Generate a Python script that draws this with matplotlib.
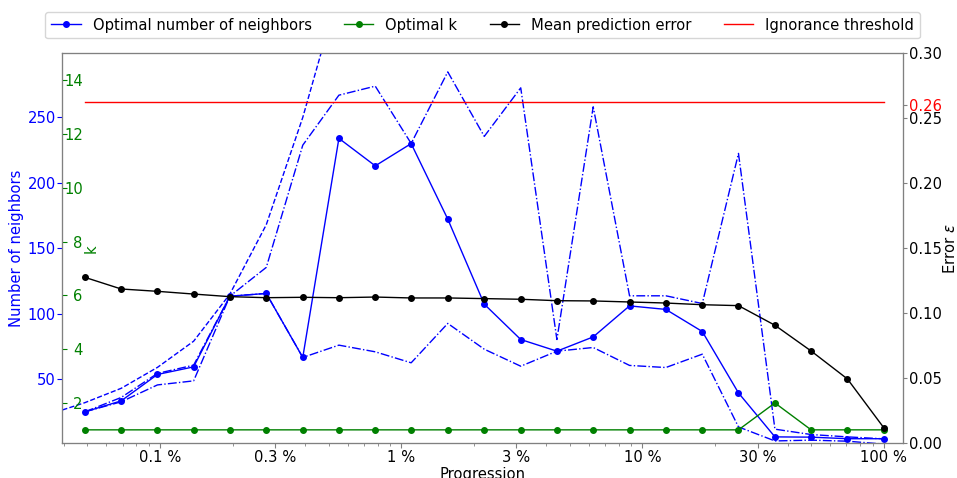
import matplotlib
matplotlib.use("Agg")
import matplotlib.pyplot as plt
from matplotlib.ticker import FixedLocator, FuncFormatter, LogLocator

# Progression (in %) of the sampling
progression = [0.0488, 0.0691, 0.0977, 0.138, 0.195, 0.276, 0.391, 0.552, 0.781,
               1.10, 1.56, 2.21, 3.13, 4.42, 6.25, 8.84, 12.5, 17.7, 25, 35.4,
               50, 70.7, 100]

neighbors = [25, 33.4, 53.6, 59.4, 113.4, 115.5, 66.6, 234, 213, 230, 172.3,
             107.3, 80.3, 71.4, 82.3, 106, 103.3, 86.4, 39.5, 5.9, 5.7, 4.5, 4.5]
neighbors_upper = [25, 36, 54.4, 60.7, 113.4, 135.4, 228.8, 267, 273.9, 230.1,
                   284.8, 235.5, 272.6, 80.3, 258.1, 113.7, 113.7, 107.8, 222.5,
                   11.8, 7.7, 5.9, 4.4]
neighbors_lower = [25, 32.7, 45.6, 48.7, 113.4, 115.5, 66.6, 76, 70.9, 62.5, 92.6,
                   72.9, 59.9, 71.4, 74.2, 60.5, 58.9, 69.1, 13.5, 2.8, 3.4, 2.6, 0.4]

# reference curve (dashed), starts one step before the first progression
ref_progression = [0.0345, 0.0488, 0.0691, 0.0977, 0.138, 0.195, 0.276, 0.391, 0.552]
ref_neighbors = [23, 32, 43, 59, 79, 115, 168, 250, 347]

optimal_k = [1, 1, 1, 1, 1, 1, 1, 1, 1, 1, 1, 1, 1, 1, 1, 1, 1, 1, 1, 2, 1, 1, 1]

mean_error = [0.1277, 0.1187, 0.1169, 0.1148, 0.1128, 0.112, 0.1123, 0.112, 0.1125,
              0.1118, 0.1118, 0.1113, 0.1108, 0.1097, 0.1095, 0.1087, 0.1079, 0.1066,
              0.1059, 0.0908, 0.071, 0.0495, 0.012]

ignorance_threshold = 0.2623

x_ticks = [0.1, 0.3, 1, 3, 10, 30, 100]
err_ticks = [0.0, 0.05, 0.10, 0.15, 0.20, 0.25, 0.26, 0.30]

fs = 10.6
spine_col = 'gray'

fig = plt.figure(figsize=(9.57, 4.78), dpi=100)
ax = fig.add_axes([0.0648, 0.0726, 0.8788, 0.8159])
ax_k = ax.twinx()
ax_err = ax.twinx()

# number of neighbors (left axis)
ax.plot(ref_progression, ref_neighbors, '--', color='blue', lw=1)
ax.plot(progression, neighbors_upper, '-.', color='blue', lw=1)
ax.plot(progression, neighbors_lower, '-.', color='blue', lw=1)
l1, = ax.plot(progression, neighbors, '-o', color='blue', lw=1, ms=4,
              label='Optimal number of neighbors')
ax.set_xscale('log')
ax.set_xlim(0.0393, 120.2)
ax.set_ylim(1, 299)
ax.set_ylabel('Number of neighbors', color='blue', fontsize=fs)
ax.yaxis.set_label_coords(-0.045, 0.5)
ax.set_xlabel('Progression', fontsize=fs, labelpad=2)
ax.tick_params(axis='y', colors='blue', labelsize=fs, pad=1)
ax.tick_params(axis='x', labelsize=fs, color=spine_col, pad=1)
ax.tick_params(axis='x', which='minor', color=spine_col)
ax.xaxis.set_major_locator(FixedLocator(x_ticks))
ax.xaxis.set_minor_locator(LogLocator(subs=range(2, 10)))
ax.xaxis.set_major_formatter(FuncFormatter(lambda v, p: f'{v:g} %'))

# optimal k (inner left axis)
l2, = ax_k.plot(progression, optimal_k, '-o', color='green', lw=1, ms=4,
                label='Optimal k')
ax_k.set_ylim(0.5, 15)
ax_k.yaxis.tick_left()
ax_k.yaxis.set_label_position('left')
ax_k.tick_params(axis='y', direction='in', pad=-15, colors='green', labelsize=fs)
ax_k.set_ylabel('k', color='green', fontsize=fs)
ax_k.yaxis.set_label_coords(0.043, 0.5)

# mean error (right axis)
l3, = ax_err.plot(progression, mean_error, '-o', color='black', lw=1, ms=4,
                  label='Mean prediction error')
l4, = ax_err.plot([progression[0], progression[-1]],
                  [ignorance_threshold, ignorance_threshold], color='red', lw=1,
                  label='Ignorance threshold')
ax_err.set_ylim(0, 0.30)
ax_err.yaxis.set_major_locator(FixedLocator(err_ticks))
ax_err.set_yticklabels([f'{t:.2f}' for t in err_ticks])
ax_err.tick_params(axis='y', labelsize=fs, color=spine_col, length=3, pad=1)
ax_err.get_yticklabels()[err_ticks.index(0.26)].set_color('red')
ax_err.set_ylabel(r'Error $\varepsilon$', fontsize=fs)
ax_err.yaxis.set_label_coords(1.046, 0.5)

for a in (ax, ax_k, ax_err):
    for s in a.spines.values():
        s.set_color(spine_col)

ax_err.legend(handles=[l1, l2, l3, l4], loc='lower center', ncol=4,
              bbox_to_anchor=(0.5, 1.038), fontsize=fs, columnspacing=2.2,
              borderaxespad=0)

fig.savefig('out.png', dpi=100)
